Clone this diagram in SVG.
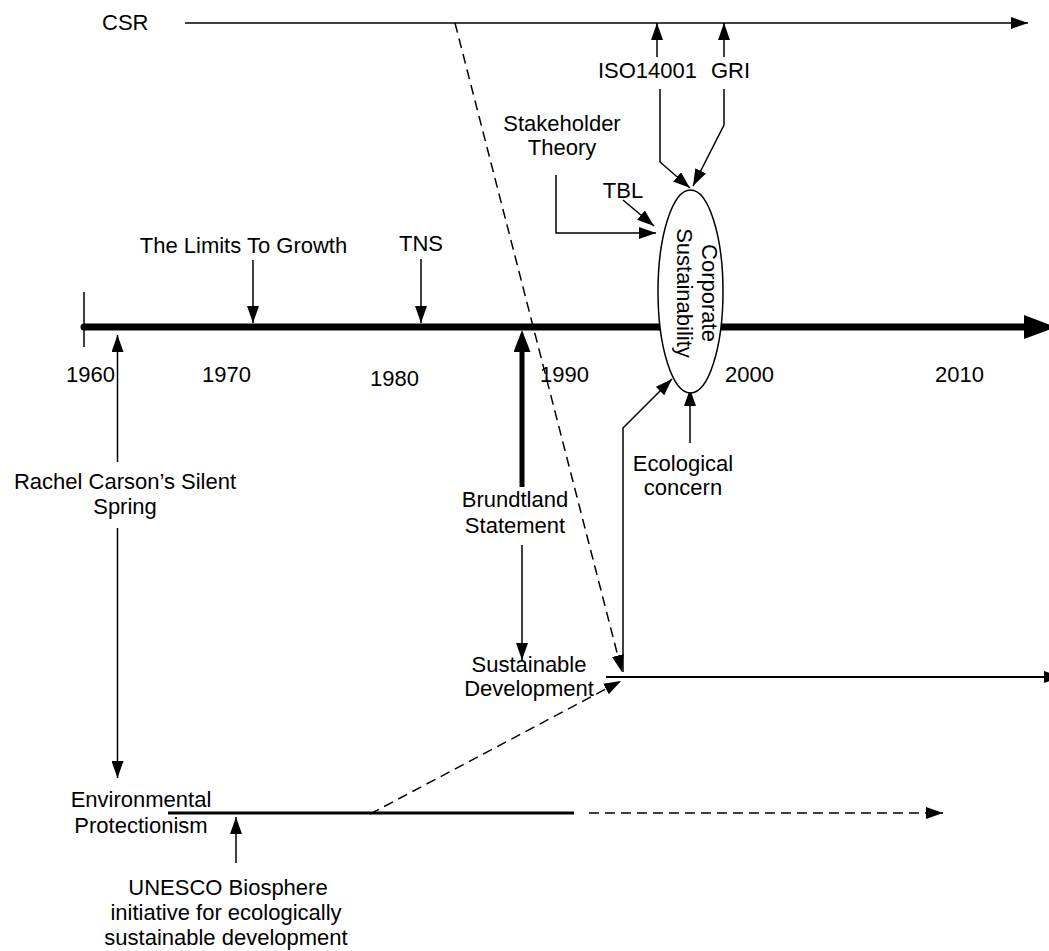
<svg xmlns="http://www.w3.org/2000/svg" width="1049" height="951" viewBox="0 0 1049 951">
<style>
text{font-family:"Liberation Sans",Arial,sans-serif;font-size:22px;fill:#000}
.m{text-anchor:middle}
.ln{fill:none;stroke:#000;stroke-width:1.5}
.dash{stroke-dasharray:10,6}
</style>
<defs>
<marker id="a" markerUnits="userSpaceOnUse" markerWidth="18" markerHeight="12" refX="17" refY="6" orient="auto"><path d="M0,0 L17,6 L0,12 z" fill="#000"/></marker>
<marker id="mid" markerUnits="userSpaceOnUse" markerWidth="23" markerHeight="17" refX="0" refY="8.5" orient="auto"><path d="M0,0 L22,8.5 L0,17 z" fill="#000"/></marker>
<marker id="big" markerUnits="userSpaceOnUse" markerWidth="34" markerHeight="24" refX="0" refY="12" orient="auto"><path d="M0,0 L32,12 L0,24 z" fill="#000"/></marker>
</defs>
<rect width="1049" height="951" fill="#fff"/>
<g id="connectors">
<line class="ln" x1="185" y1="23" x2="1028" y2="23" marker-end="url(#a)"/>
<line class="ln" x1="657" y1="57" x2="657" y2="23" marker-end="url(#a)"/>
<line class="ln" x1="724" y1="57" x2="724" y2="23" marker-end="url(#a)"/>
<path class="ln" d="M660,89 V162 L690,188" marker-end="url(#a)"/>
<path class="ln" d="M724,89 V125 L693,186" marker-end="url(#a)"/>
<path class="ln" d="M556,175 V233 H656" marker-end="url(#a)"/>
<line class="ln" x1="623" y1="200" x2="654" y2="226" marker-end="url(#a)"/>
<line class="ln" x1="84" y1="292" x2="84" y2="347"/>
<line x1="84" y1="327" x2="1024" y2="327" stroke="#000" stroke-width="7" stroke-linecap="round" marker-end="url(#big)"/>
<line class="ln" x1="253" y1="260" x2="253" y2="323" marker-end="url(#a)"/>
<line class="ln" x1="421" y1="259" x2="421" y2="323" marker-end="url(#a)"/>
<line class="ln" x1="117.5" y1="462" x2="117.5" y2="335" marker-end="url(#a)"/>
<line class="ln" x1="117.5" y1="528" x2="117.5" y2="778" marker-end="url(#a)"/>
<line x1="522" y1="487" x2="522" y2="352" stroke="#000" stroke-width="5" marker-end="url(#mid)"/>
<line class="ln" x1="522" y1="545" x2="522" y2="660" marker-end="url(#a)"/>
<line class="ln" x1="690" y1="443" x2="690" y2="389" marker-end="url(#a)"/>
<path class="ln" d="M623,672 V428 L672,379" marker-end="url(#a)"/>
<line class="ln dash" x1="455" y1="23" x2="622" y2="672" marker-end="url(#a)"/>
<line x1="606" y1="677" x2="1061" y2="677" stroke="#000" stroke-width="2" marker-end="url(#a)"/>
<line x1="168" y1="813" x2="574" y2="813" stroke="#000" stroke-width="3"/>
<line class="ln dash" x1="589" y1="813" x2="943" y2="813" marker-end="url(#a)"/>
<line class="ln dash" x1="370" y1="814" x2="621" y2="681" marker-end="url(#a)"/>
<line class="ln" x1="236" y1="863" x2="236" y2="817" marker-end="url(#a)"/>
</g>
<g id="csr"><text x="102" y="30">CSR</text></g>
<g id="iso"><text class="m" x="647.5" y="78">ISO14001</text></g>
<g id="gri"><text x="711" y="78">GRI</text></g>
<g id="stakeholder"><text class="m" x="562" y="131">Stakeholder</text><text class="m" x="562" y="155">Theory</text></g>
<g id="tbl"><text class="m" x="623" y="198">TBL</text></g>
<g id="limits"><text class="m" x="243.5" y="253">The Limits To Growth</text></g>
<g id="tns"><text class="m" x="421" y="251">TNS</text></g>
<g id="years">
<text x="66" y="382">1960</text>
<text x="202" y="382">1970</text>
<text x="370" y="386">1980</text>
<text x="540" y="382">1990</text>
<text x="725" y="382">2000</text>
<text x="935" y="382">2010</text>
</g>
<g id="corporate-sustainability">
<ellipse cx="690.5" cy="291.5" rx="32.5" ry="101.5" fill="#fff" stroke="#000" stroke-width="1.5"/>
<text class="m" transform="translate(690,293) rotate(90)"><tspan x="0" y="-12">Corporate</tspan><tspan x="0" y="13">Sustainability</tspan></text>
</g>
<g id="rachel"><text class="m" x="125" y="489">Rachel Carson’s Silent</text><text class="m" x="125" y="514">Spring</text></g>
<g id="brundtland"><text class="m" x="515" y="507">Brundtland</text><text class="m" x="515" y="533">Statement</text></g>
<g id="ecological"><text class="m" x="683" y="471">Ecological</text><text class="m" x="683" y="495">concern</text></g>
<g id="sustainable-development"><text class="m" x="529" y="672">Sustainable</text><text class="m" x="529" y="696">Development</text></g>
<g id="environmental"><text class="m" x="141" y="807">Environmental</text><text class="m" x="141" y="833">Protectionism</text></g>
<g id="unesco"><text class="m" x="228" y="895">UNESCO Biosphere</text><text class="m" x="226" y="920">initiative for ecologically</text><text class="m" x="226" y="945">sustainable development</text></g>
</svg>
